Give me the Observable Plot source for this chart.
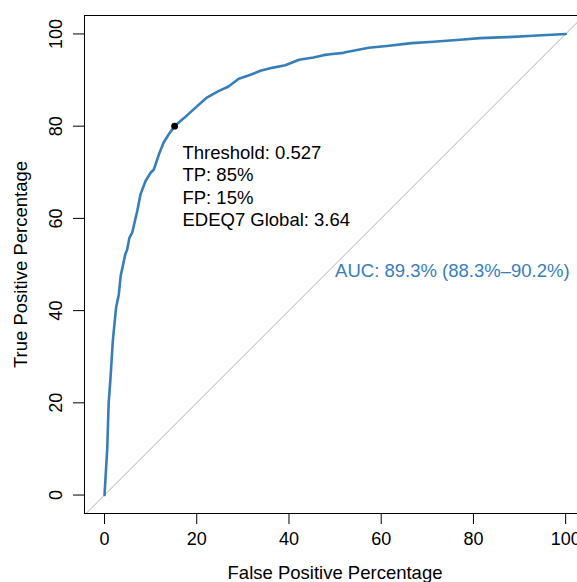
<!DOCTYPE html>
<html>
<head>
<meta charset="utf-8">
<script src="https://cdn.jsdelivr.net/npm/d3@7"></script>
<script src="https://cdn.jsdelivr.net/npm/@observablehq/plot@0.6"></script>
<style>
  html, body { margin: 0; padding: 0; background: #fff; overflow: hidden; }
  #chart { width: 577px; height: 582px; overflow: hidden; }
  #chart svg { max-width: none !important; width: 600px !important; height: 582px !important; }
</style>
</head>
<body>
<div id="chart"></div>
<script>
// ROC curve values (false positive %, true positive %)
const fpr = [0, 0.6, 0.9, 1.3, 1.8, 2.5, 3.1, 3.5, 4.5, 4.9, 5.4, 6.0, 7.1, 7.8, 8.9, 10.0, 10.7, 11.8, 12.8, 13.9, 15.2, 16.1, 17.3, 19.5, 22.2, 24.7, 26.9, 29.1, 31.2, 33.8, 36.6, 39.2, 42.2, 45.3, 47.5, 48.9, 51.8, 52.5, 57.3, 61.2, 66.6, 71.3, 77.8, 81.4, 87.2, 92.9, 100];
const tpr = [0, 10.3, 20.0, 25.4, 33.4, 40.6, 43.5, 47.5, 52.2, 53.2, 55.8, 56.9, 61.6, 65.2, 68.1, 69.9, 70.6, 73.9, 76.4, 78.2, 80.0, 80.8, 81.8, 83.8, 86.2, 87.6, 88.6, 90.3, 91.0, 92.0, 92.7, 93.2, 94.4, 94.9, 95.4, 95.6, 95.9, 96.1, 97.0, 97.4, 98.0, 98.3, 98.8, 99.1, 99.3, 99.6, 100];

// Highlighted threshold point
const thresholdPoint = [{fpr: 15.2, tpr: 80.0}];
const thresholdLabel = ["Threshold: 0.527\nTP: 85%\nFP: 15%\nEDEQ7 Global: 3.64"];
const thresholdLabelPos = [{fpr: 16.9, tpr: 76.3}];

const aucLabel = ["AUC: 89.3% (88.3%\u201390.2%)"];
const aucLabelPos = [{fpr: 50.0, tpr: 50.1}];

const xTicks = [0, 20, 40, 60, 80, 100];
const yTicks = [0, 20, 40, 60, 80, 100];
const xDomain = [-4.34, 104.3];
const yDomain = [-4, 104];
const xTitle = "False Positive Percentage";
const yTitle = "True Positive Percentage";

const curve = fpr.map((f, i) => ({fpr: f, tpr: tpr[i]}));
const diagonal = [Math.min(xDomain[0], yDomain[0]), Math.max(xDomain[1], yDomain[1])];

const font = "'Liberation Sans', Arial, Helvetica, sans-serif";
const blue = "#377EB8";

const chart = Plot.plot({
  width: 600,
  height: 582,
  marginLeft: 84,
  marginRight: 15,
  marginTop: 15,
  marginBottom: 69,
  x: {domain: xDomain},
  y: {domain: yDomain},
  style: {fontFamily: font, fontSize: "18.5px", background: "#fff", color: "#000", overflow: "visible", maxWidth: "none"},
  marks: [
    Plot.line(diagonal, {x: d => d, y: d => d, stroke: "#b0b0b0", strokeWidth: 1, clip: true}),
    Plot.line(curve, {x: "fpr", y: "tpr", stroke: blue, strokeWidth: 2.6}),
    Plot.dot(thresholdPoint, {x: "fpr", y: "tpr", r: 3.4, fill: "#000", stroke: null}),
    Plot.text(thresholdLabelPos, {x: "fpr", y: "tpr", text: (d, i) => thresholdLabel[i], textAnchor: "start", lineAnchor: "top", lineHeight: 1.21, fill: "#000", fontSize: 18.5}),
    Plot.text(aucLabelPos, {x: "fpr", y: "tpr", text: (d, i) => aucLabel[i], textAnchor: "start", lineAnchor: "top", fill: blue, fontSize: 18.5}),
    Plot.frame({stroke: "#000", strokeWidth: 1}),
    Plot.axisX({ticks: xTicks, tickSize: 11, tickPadding: 8, label: null, fontSize: 18}),
    Plot.axisY({ticks: yTicks, tickSize: 11, tickFormat: () => "", label: null}),
    Plot.text(yTicks, {y: d => d, text: d => String(d), frameAnchor: "left", dx: -22.5, rotate: -90, textAnchor: "middle", lineAnchor: "bottom", fontSize: 18}),
    Plot.text([yTitle], {text: d => d, frameAnchor: "left", dx: -57.3, rotate: -90, textAnchor: "middle", lineAnchor: "bottom", fontSize: 18.5}),
    Plot.text([xTitle], {text: d => d, frameAnchor: "bottom", dy: 65, textAnchor: "middle", lineAnchor: "bottom", fontSize: 18.5})
  ]
});
document.getElementById("chart").appendChild(chart);
</script>
</body>
</html>
